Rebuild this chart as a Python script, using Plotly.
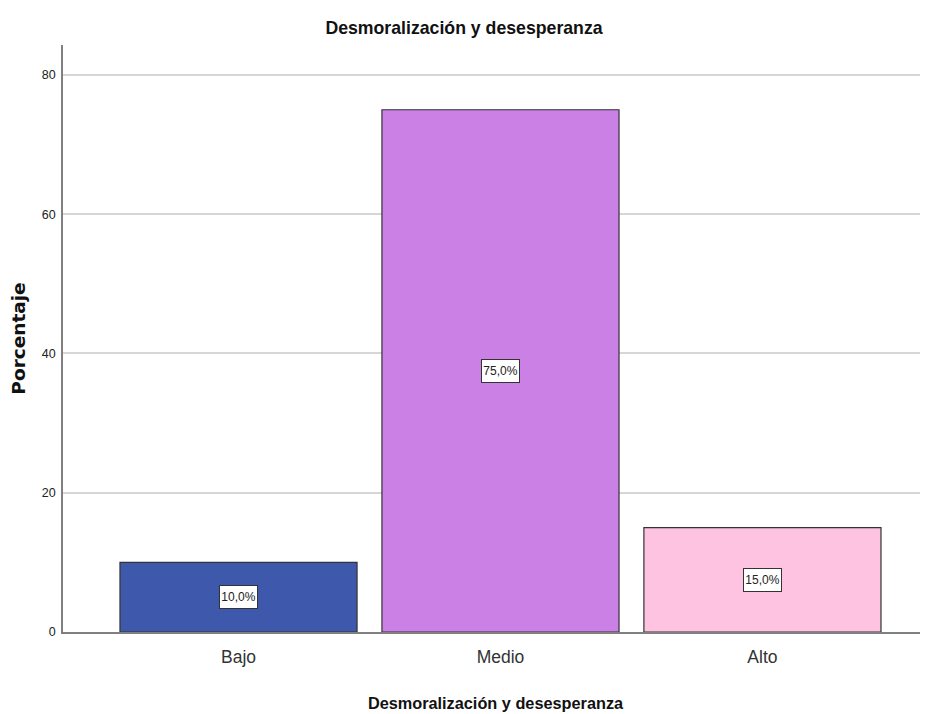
import plotly.graph_objects as go

categories = ["Bajo", "Medio", "Alto"]
values = [10.0, 75.0, 15.0]
labels = ["10,0%", "75,0%", "15,0%"]
colors = ["#3E58AB", "#CB80E6", "#FEC3E1"]
yticks = [0, 20, 40, 60, 80]

sans = "Liberation Sans, Arial"

fig = go.Figure()
fig.add_trace(go.Bar(
    x=categories, y=values,
    marker=dict(color=colors, line=dict(color="#333333", width=1.2)),
    width=0.905, hoverinfo="skip", showlegend=False,
))
for c, v, t in zip(categories, values, labels):
    fig.add_annotation(x=c, y=v / 2, text=t, showarrow=False,
                       font=dict(family=sans, size=12, color="#222222"),
                       width=35, height=20,
                       bgcolor="white", bordercolor="#333333", borderwidth=1, borderpad=1)

fig.update_layout(
    width=920, height=706,
    margin=dict(l=55, r=0, t=37, b=82),
    plot_bgcolor="white", paper_bgcolor="white",
    title=dict(text="<b>Desmoralización y desesperanza</b>", x=(464 - 8) / 920, xanchor="center",
               y=1 - 20 / 706, yanchor="middle",
               font=dict(family=sans, size=17.7, color="#111111")),
)
fig.update_xaxes(
    range=[-0.67, 2.632], showgrid=False, showline=True, linecolor="#808080", linewidth=1.5,
    ticks="outside", ticklen=8, tickcolor="white",
    tickfont=dict(family=sans, size=17.5, color="#333333"),
    title=dict(text="<b>Desmoralización y desesperanza</b>", standoff=32,
               font=dict(family=sans, size=16.3, color="#111111")),
    fixedrange=True,
)
fig.update_yaxes(
    range=[0, 84.3], tickvals=yticks, showgrid=True, gridcolor="#D6D6D6", gridwidth=2,
    showline=True, linecolor="#808080", linewidth=1.5, zeroline=False,
    ticks="outside", ticklen=3, tickcolor="white",
    tickfont=dict(family=sans, size=12.5, color="#222222"),
    title=dict(text="<b>Porcentaje</b>", standoff=11,
               font=dict(family="DejaVu Sans, Verdana", size=18.5, color="#111111")),
    fixedrange=True,
)
fig.write_html("out.html")
